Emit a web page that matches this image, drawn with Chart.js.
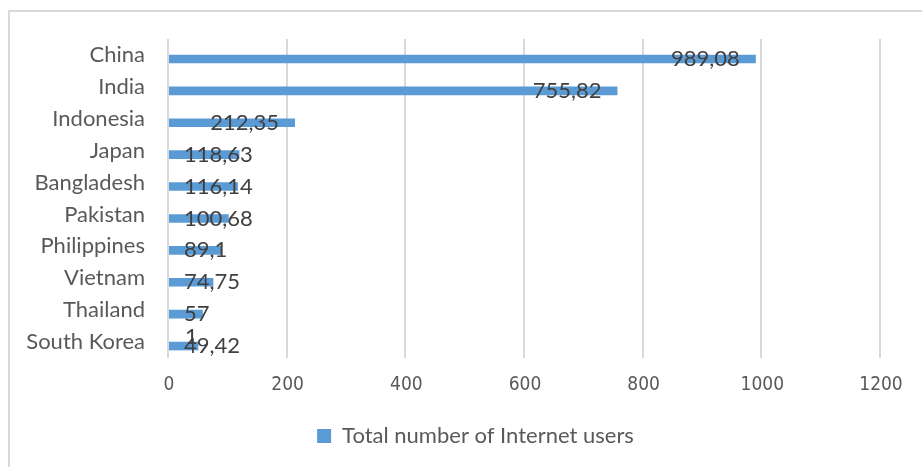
<!DOCTYPE html>
<html>
<head>
<meta charset="utf-8">
<script src="https://cdn.jsdelivr.net/npm/chart.js@4/dist/chart.umd.min.js"></script>
<style>
  html, body { margin: 0; padding: 0; background: #fff; }
  #wrap { position: relative; width: 922px; height: 467px; }
  #frame { position: absolute; left: 8px; top: 10px; right: 0; bottom: 0;
           border-left: 2px solid #d9d9d9; border-top: 2px solid #d9d9d9; }
  canvas { position: absolute; left: 0; top: 0; }
</style>
</head>
<body>
<div id="wrap">
  <div id="frame"></div>
  <canvas id="chart" width="922" height="467"></canvas>
</div>
<script>
// countries, top to bottom
const countries = ['China', 'India', 'Indonesia', 'Japan', 'Bangladesh', 'Pakistan', 'Philippines', 'Vietnam', 'Thailand', 'South Korea'];
// millions of users
const users = [989.08, 755.82, 212.35, 118.63, 116.14, 100.68, 89.1, 74.75, 57, 49.42];
// labels as printed on the chart (South Korea one is broken over two lines)
const valueLabels = [['989,08'], ['755,82'], ['212,35'], ['118,63'], ['116,14'], ['100,68'], ['89,1'], ['74,75'], ['57'], ['1', '49,42']];
const xTicks = [0, 200, 400, 600, 800, 1000, 1200];

const barColor = '#5b9bd5';
const labelFont = '"Lato", "Open Sans", sans-serif';

// vertical gridlines: in the original they sit a few px above the bars band
const gridPlugin = {
  id: 'grid',
  afterLayout(chart) {
    // legend in the original is centred a bit right of the canvas middle
    chart.legend.left += 35;
    chart.legend.right += 35;
  },
  beforeDatasetsDraw(chart) {
    const ctx = chart.ctx;
    const x = chart.scales.x;
    const top = chart.chartArea.top - 4;
    const bottom = chart.chartArea.bottom - 4;
    ctx.save();
    ctx.strokeStyle = '#d9d9d9';
    ctx.lineWidth = 2;
    xTicks.forEach(v => {
      const px = Math.round(x.getPixelForValue(v)) - 1;
      ctx.beginPath();
      ctx.moveTo(px, top);
      ctx.lineTo(px, bottom);
      ctx.stroke();
    });
    ctx.restore();
  }
};

// draws the value next to each bar end, like Excel does
const valueLabelPlugin = {
  id: 'valueLabels',
  afterDatasetsDraw(chart) {
    const ctx = chart.ctx;
    const meta = chart.getDatasetMeta(0);
    ctx.save();
    ctx.font = '22px ' + labelFont;
    ctx.fillStyle = '#404040';
    ctx.textBaseline = 'middle';
    meta.data.forEach((bar, i) => {
      const lines = valueLabels[i];
      const main = lines[lines.length - 1];
      const w = ctx.measureText(main).width;
      let left = bar.x - 16 - w;
      if (left < 184) left = 184;
      ctx.fillText(main, left, bar.y);
      if (lines.length > 1) {
        ctx.fillText(lines[0], left + 1, bar.y - 9);
      }
    });
    ctx.restore();
  }
};

new Chart(document.getElementById('chart'), {
  type: 'bar',
  data: {
    labels: countries,
    datasets: [{
      label: 'Total number of Internet users',
      data: users,
      backgroundColor: barColor,
      borderWidth: 0,
      categoryPercentage: 1,
      barPercentage: 0.27
    }]
  },
  options: {
    indexAxis: 'y',
    responsive: false,
    animation: false,
    layout: { padding: { left: 0, right: 41, top: 43, bottom: 10 } },
    scales: {
      x: {
        min: 0,
        max: 1200,
        afterBuildTicks: axis => { axis.ticks = xTicks.map(v => ({ value: v })); },
        grid: { display: false, drawTicks: false },
        border: { display: false },
        ticks: {
          padding: 12,
          color: '#595959',
          callback: v => String(v),
          font: { family: '"DejaVu Sans Condensed", "Lato", sans-serif', size: 19 }
        },
        afterFit: axis => { axis.height = 53; }
      },
      y: {
        grid: { display: false, drawTicks: false },
        border: { display: false },
        ticks: {
          padding: 24,
          labelOffset: -4,
          color: '#595959',
          font: { family: labelFont, size: 22 }
        },
        afterFit: axis => { axis.width = 169; }
      }
    },
    plugins: {
      legend: {
        position: 'bottom',
        labels: {
          boxWidth: 14,
          boxHeight: 14,
          padding: 10,
          color: '#595959',
          font: { family: labelFont, size: 22 }
        }
      },
      tooltip: { enabled: false }
    }
  },
  plugins: [gridPlugin, valueLabelPlugin]
});
</script>
</body>
</html>
